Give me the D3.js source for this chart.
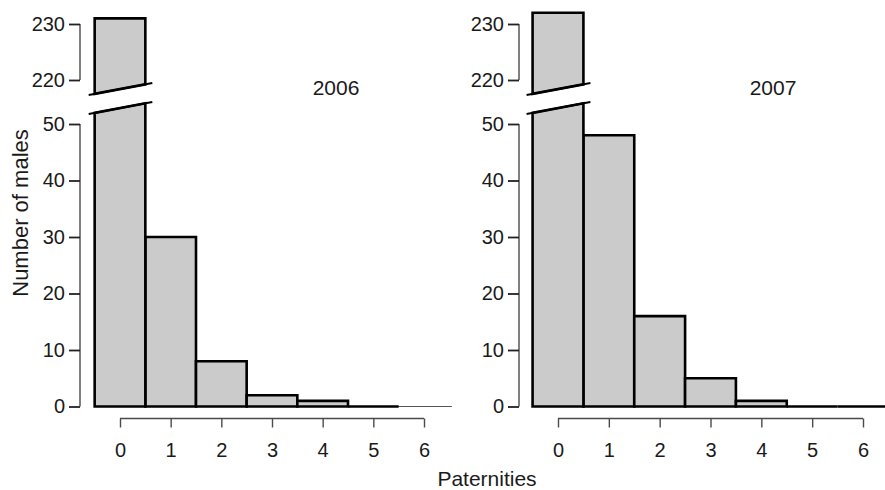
<!DOCTYPE html>
<html>
<head>
<meta charset="utf-8">
<script src="https://d3js.org/d3.v7.min.js"></script>
<style>
  body { margin: 0; background: #fff; }
  svg text { font-family: "Liberation Sans", Arial, Helvetica, sans-serif; fill: #1a1a1a; }
</style>
</head>
<body>
<svg id="chart" width="885" height="490"></svg>
<script>
// paternities per male, by year
var categories = [0, 1, 2, 3, 4, 5, 6];
var years = ["2006", "2007"];
var males2006 = [231, 30, 8, 2, 1, 0];
var males2007 = [232, 48, 16, 5, 1, 0, 0];
var lowTicks = [0, 10, 20, 30, 40, 50];
var highTicks = [220, 230];

var panels = [
  {year: years[0], values: males2006, axisX: 80, x0: 120, x6: 424, yearX: 336, tail: 6.55},
  {year: years[1], values: males2007, axisX: 519, x0: 558, x6: 863, yearX: 773, tail: null}
];

var svg = d3.select("#chart");

// broken y axis: two linear pieces with the same px per unit
var yLow = d3.scaleLinear().domain([0, 50]).range([406.5, 124]);
var yHigh = d3.scaleLinear().domain([220, 230]).range([80, 24]);

var barFill = "#cbcbcb", axisCol = "#4a4a4a";
var font = "'Liberation Sans', Arial, sans-serif";

panels.forEach(function(p) {
  var g = svg.append("g");
  var x = d3.scaleLinear().domain([0, 6]).range([p.x0, p.x6]);

  // y axes (lower and upper pieces)
  var axLow = g.append("g")
    .attr("transform", "translate(" + p.axisX + ",0)")
    .call(d3.axisLeft(yLow).tickValues(lowTicks).tickSize(11).tickPadding(4));
  var axHigh = g.append("g")
    .attr("transform", "translate(" + p.axisX + ",0)")
    .call(d3.axisLeft(yHigh).tickValues(highTicks).tickSize(11).tickPadding(4));
  [[axLow, yLow], [axHigh, yHigh]].forEach(function(pair) {
    var a = pair[0], r = pair[1].range();
    a.select(".domain").attr("d", "M0," + r[0] + "V" + r[1])
      .attr("stroke", axisCol).attr("stroke-width", 1.4);
    a.selectAll(".tick line").attr("stroke", "#222").attr("stroke-width", 1.8);
    a.selectAll(".tick text").attr("font-size", 20).attr("fill", "#1a1a1a")
      .style("font-family", font);
  });

  // x axis
  var axX = g.append("g")
    .attr("transform", "translate(0,418.5)")
    .call(d3.axisBottom(x).tickValues(categories).tickFormat(d3.format("d"))
      .tickSize(9).tickPadding(15).tickSizeOuter(0));
  axX.select(".domain").attr("d", "M" + x(0) + ",0H" + x(6))
    .attr("stroke", axisCol).attr("stroke-width", 1.4);
  axX.selectAll(".tick line").attr("stroke", axisCol).attr("stroke-width", 1.4);
  axX.selectAll(".tick text").attr("font-size", 20).attr("fill", "#1a1a1a")
    .style("font-family", font);

  // thin baseline tail
  if (p.tail !== null) {
    g.append("line")
      .attr("x1", x(-0.5)).attr("x2", x(p.tail))
      .attr("y1", yLow(0)).attr("y2", yLow(0))
      .attr("stroke", "#555").attr("stroke-width", 1.2);
  }

  var bars = p.values.map(function(v, i) { return {cat: categories[i], v: v}; });

  // ordinary bars (paths so zero-height bars still show as a line)
  g.selectAll(".bar")
    .data(bars.filter(function(d) { return d.v <= 50; }))
    .enter().append("path")
    .attr("class", "bar")
    .attr("d", function(d) {
      var xa = x(d.cat - 0.5), xb = x(d.cat + 0.5);
      return "M" + xa + "," + yLow(0) + "V" + yLow(d.v) + "H" + xb + "V" + yLow(0) + "Z";
    })
    .attr("fill", barFill)
    .attr("stroke", "#000").attr("stroke-width", 2.6);

  // broken bar(s)
  bars.filter(function(d) { return d.v > 50; }).forEach(function(d) {
    var xa = x(d.cat - 0.5), xb = x(d.cat + 0.5);
    var bl0 = xa - 6, bl1 = xb + 7;
    var low0 = yLow(50) - 10, low1 = yLow(50) - 22;
    var up0 = yHigh(220) + 15, up1 = yHigh(220) + 3;
    var lowAt = function(xx) { return low0 + (low1 - low0) * (xx - bl0) / (bl1 - bl0); };
    var upAt = function(xx) { return up0 + (up1 - up0) * (xx - bl0) / (bl1 - bl0); };

    g.append("path")
      .attr("d", "M" + xa + "," + yLow(0) + "L" + xa + "," + lowAt(xa) +
        "L" + xb + "," + lowAt(xb) + "L" + xb + "," + yLow(0) + "Z")
      .attr("fill", barFill).attr("stroke", "#000").attr("stroke-width", 2.6);
    g.append("path")
      .attr("d", "M" + xa + "," + upAt(xa) + "L" + xa + "," + yHigh(d.v) +
        "L" + xb + "," + yHigh(d.v) + "L" + xb + "," + upAt(xb) + "Z")
      .attr("fill", barFill).attr("stroke", "#000").attr("stroke-width", 2.6);
    g.append("line")
      .attr("x1", bl0).attr("y1", low0).attr("x2", bl1).attr("y2", low1)
      .attr("stroke", "#000").attr("stroke-width", 2);
    g.append("line")
      .attr("x1", bl0).attr("y1", up0).attr("x2", bl1).attr("y2", up1)
      .attr("stroke", "#000").attr("stroke-width", 2);
  });

  g.append("text")
    .attr("x", p.yearX).attr("y", 95)
    .attr("text-anchor", "middle")
    .attr("font-size", 21)
    .text(p.year);
});

svg.append("text")
  .attr("transform", "translate(28,213) rotate(-90)")
  .attr("text-anchor", "middle")
  .attr("font-size", 22)
  .text("Number of males");

svg.append("text")
  .attr("x", 487).attr("y", 486)
  .attr("text-anchor", "middle")
  .attr("font-size", 21)
  .text("Paternities");
</script>
</body>
</html>
